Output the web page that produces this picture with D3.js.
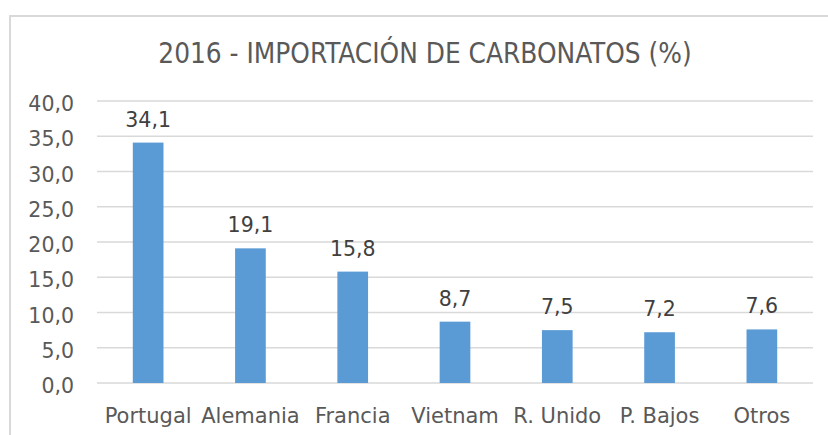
<!DOCTYPE html>
<html>
<head>
<meta charset="utf-8">
<script src="https://cdn.jsdelivr.net/npm/d3@7"></script>
<style>
  body { margin: 0; background: #fff; }
  text { font-family: "DejaVu Sans", sans-serif; }
  .title { font-family: "DejaVu Sans Condensed", "DejaVu Sans", sans-serif; }
</style>
</head>
<body>
<svg id="canvas" width="828" height="435"></svg>
<script>
const titleText = '2016 - IMPORTACIÓN DE CARBONATOS (%)';
const countries = ['Portugal', 'Alemania', 'Francia', 'Vietnam', 'R. Unido', 'P. Bajos', 'Otros'];
const shares = [34.1, 19.1, 15.8, 8.7, 7.5, 7.2, 7.6];
const yTicks = [0, 5, 10, 15, 20, 25, 30, 35, 40];

const svg = d3.select('#canvas');
const fmt = v => d3.format('.1f')(v).replace('.', ',');

// chart frame (only left and top edges show in the crop)
svg.append('rect')
    .attr('x', 10).attr('y', 16)
    .attr('width', 830).attr('height', 430)
    .attr('fill', 'white')
    .attr('stroke', '#d9d9d9')
    .attr('stroke-width', 2);

svg.append('text')
    .attr('class', 'title')
    .attr('x', 425).attr('y', 63)
    .attr('text-anchor', 'middle')
    .attr('font-size', 27.7)
    .attr('fill', '#595959')
    .text(titleText);

const x = d3.scaleBand().domain(countries).range([97, 813]).paddingInner(0.7).paddingOuter(0.35);
const y = d3.scaleLinear().domain([0, 40]).range([383, 101]);

// gridlines
svg.append('g')
    .selectAll('line')
    .data(yTicks)
    .enter()
    .append('line')
    .attr('x1', 97).attr('x2', 813)
    .attr('y1', d => y(d)).attr('y2', d => y(d))
    .attr('stroke', '#d9d9d9')
    .attr('stroke-width', 1.5);

// y tick labels
svg.append('g')
    .selectAll('text')
    .data(yTicks)
    .enter()
    .append('text')
    .attr('x', 74)
    .attr('y', d => y(d) + 10)
    .attr('text-anchor', 'end')
    .attr('font-size', 20.5)
    .attr('fill', '#595959')
    .text(fmt);

// bars
svg.append('g')
    .selectAll('rect')
    .data(shares)
    .enter()
    .append('rect')
    .attr('x', (d, i) => x(countries[i]))
    .attr('width', x.bandwidth())
    .attr('y', d => y(d))
    .attr('height', d => y(0) - y(d))
    .attr('fill', '#5b9bd5');

// data labels
svg.append('g')
    .selectAll('text')
    .data(shares)
    .enter()
    .append('text')
    .attr('x', (d, i) => x(countries[i]) + x.bandwidth() / 2)
    .attr('y', d => y(d) - 16)
    .attr('text-anchor', 'middle')
    .attr('font-size', 20.5)
    .attr('fill', '#404040')
    .text(fmt);

// category labels
svg.append('g')
    .selectAll('text')
    .data(countries)
    .enter()
    .append('text')
    .attr('x', d => x(d) + x.bandwidth() / 2)
    .attr('y', 423)
    .attr('text-anchor', 'middle')
    .attr('font-size', 21)
    .attr('fill', '#595959')
    .text(d => d);
</script>
</body>
</html>
